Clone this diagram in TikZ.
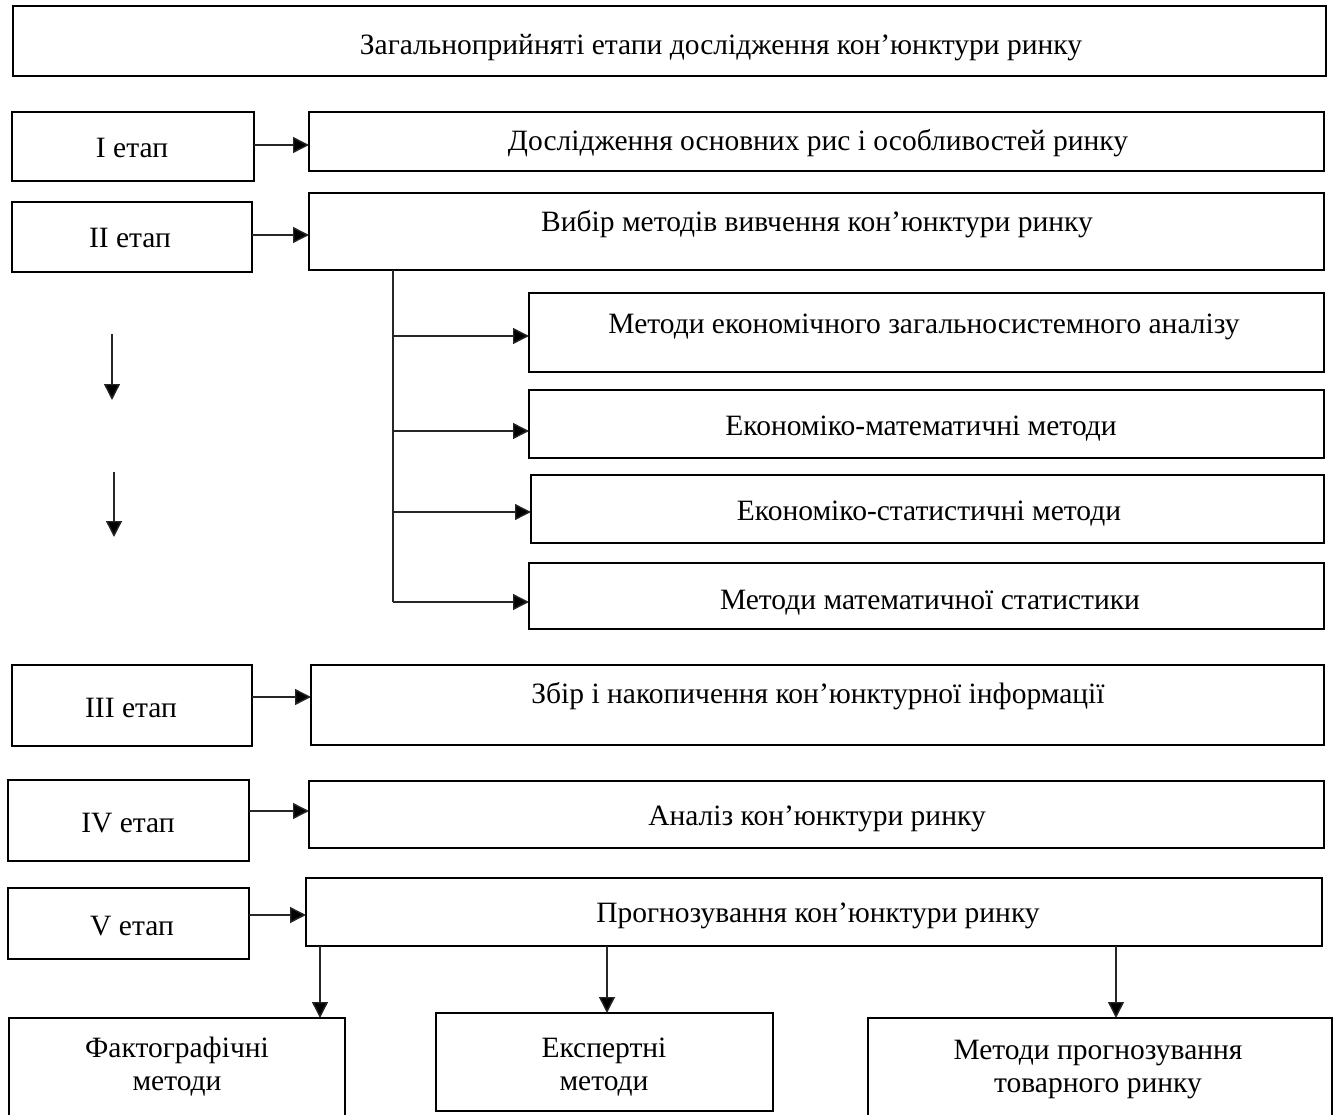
\documentclass[tikz,border=0pt]{standalone}
\usepackage{fontspec}
\setmainfont{Liberation Serif}
\usetikzlibrary{arrows.meta}

% Box drawn from its top-left corner (x1,y1) to bottom-right corner (x2,y2), in px-like units
\newcommand\stagebox[5]{%
  \node[boxframe, anchor=north west,
        minimum width={(#4)-(#2)}, minimum height={(#5)-(#3)}] (#1) at (#2,#3) {};}

\begin{document}
\begin{tikzpicture}[x=1pt, y=-1pt,
  boxframe/.style={draw, line width=2.6pt, inner sep=0pt, outer sep=0pt},
  lbl/.style={anchor=base, inner sep=0pt, align=center,
              font=\fontsize{29.5}{33}\selectfont},
  arr/.style={line width=1.4pt, draw=black!85, -{Triangle[length=16pt, width=16pt, fill=black]}},
  trunk/.style={line width=1.4pt, draw=black!85}]

\clip (0,0) rectangle (1336,1115);
\fill[white] (0,0) rectangle (1336,1115);

% title
\stagebox{title}{13}{6}{1326}{76}
\node[lbl] (ttitle) at (721,55) {Загальноприйняті етапи дослідження кон’юнктури ринку};

% stage boxes on the left
\stagebox{s1}{12}{112}{254}{181}
\stagebox{s2}{12}{202}{252}{272}
\stagebox{s3}{12}{665}{252}{746}
\stagebox{s4}{8}{780}{249}{861}
\stagebox{s5}{8}{888}{249}{959}
\node[lbl] (ts1) at (132,158) {I етап};
\node[lbl] (ts2) at (130,248) {II етап};
\node[lbl] (ts3) at (131,717) {III етап};
\node[lbl] (ts4) at (128,832) {IV етап};
\node[lbl] (ts5) at (132,935) {V етап};

% stage contents on the right
\stagebox{r1}{309}{112}{1324}{171}
\stagebox{r2}{309}{193}{1324}{270}
\stagebox{r3}{311}{665}{1324}{745}
\stagebox{r4}{309}{781}{1324}{848}
\stagebox{r5}{306}{878}{1322}{946}
\node[lbl] (tr1) at (818,151) {Дослідження основних рис і особливостей ринку};
\node[lbl] (tr2) at (817,232) {Вибір методів вивчення кон’юнктури ринку};
\node[lbl] (tr3) at (818,703) {Збір і накопичення кон’юнктурної інформації};
\node[lbl] (tr4) at (817,825) {Аналіз кон’юнктури ринку};
\node[lbl] (tr5) at (818,922) {Прогнозування кон’юнктури ринку};

% study methods
\stagebox{m1}{529}{293}{1324}{372}
\stagebox{m2}{529}{390}{1324}{458}
\stagebox{m3}{531}{475}{1324}{543}
\stagebox{m4}{529}{563}{1324}{629}
\node[lbl] (tm1) at (924,334) {Методи економічного загальносистемного аналізу};
\node[lbl] (tm2) at (921,435) {Економіко-математичні методи};
\node[lbl] (tm3) at (929,520) {Економіко-статистичні методи};
\node[lbl] (tm4) at (930,609) {Методи математичної статистики};

% forecasting methods
\stagebox{f1}{9}{1018}{345}{1140}
\stagebox{f2}{436}{1013}{773}{1111}
\stagebox{f3}{868}{1018}{1332}{1140}
\node[lbl] (tf1) at (177,1090) {Фактографічні\\методи};
\node[lbl] (tf2) at (604,1090) {Експертні\\методи};
\node[lbl] (tf3) at (1098,1092) {Методи прогнозування\\товарного ринку};

% stage -> content arrows
\draw[arr] (s1.east |- 0,145) -- (r1.west |- 0,145);
\draw[arr] (s2.east |- 0,235) -- (r2.west |- 0,235);
\draw[arr] (s3.east |- 0,697) -- (r3.west |- 0,697);
\draw[arr] (s4.east |- 0,811) -- (r4.west |- 0,811);
\draw[arr] (s5.east |- 0,915) -- (r5.west |- 0,915);

% branching to the study methods
\coordinate (trunkend) at (393,602);
\draw[trunk] (r2.south -| trunkend) -- (trunkend);
\draw[arr] (393,336) -- (m1.west |- 0,336);
\draw[arr] (393,431) -- (m2.west |- 0,431);
\draw[arr] (393,512) -- (m3.west |- 0,512);
\draw[arr] (trunkend) -- (m4.west |- trunkend);

% free downward arrows
\coordinate (d1a) at (112,334);
\coordinate (d1b) at (112,400);
\coordinate (d2a) at (114,472);
\coordinate (d2b) at (114,537);
\draw[arr] (d1a) -- (d1b);
\draw[arr] (d2a) -- (d2b);

% forecasting branches
\draw[arr] (r5.south -| 320,0) -- (f1.north -| 320,0);
\draw[arr] (r5.south -| 607,0) -- (f2.north -| 607,0);
\draw[arr] (r5.south -| 1116,0) -- (f3.north -| 1116,0);
\end{tikzpicture}
\end{document}
